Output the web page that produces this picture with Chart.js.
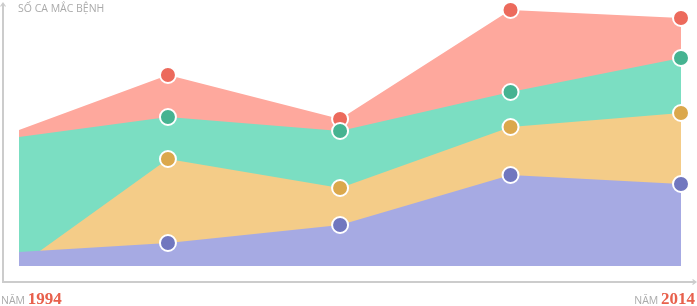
<!DOCTYPE html>
<html>
<head>
<meta charset="utf-8">
<script src="https://cdn.jsdelivr.net/npm/chart.js@4"></script>
<style>
    body { margin: 0; background: #fff; }
    .wrap { position: relative; width: 697px; height: 306px; }
    .lbl { position: absolute; font-family: "Open Sans", sans-serif; color: #aaa; font-size: 10.5px; white-space: nowrap; line-height: 16px; }
    .lbl b { color: #e8604c; font-family: "Liberation Serif", serif; font-size: 17px; }
</style>
</head>
<body>
<div class="wrap">
    <canvas id="cases_chart" width="697" height="306"></canvas>
    <div class="lbl" style="left:18px; top:0px;">SỐ CA MẮC BỆNH</div>
    <div class="lbl" style="left:1px; top:291px;">NĂM <b>1994</b></div>
    <div class="lbl" style="right:2px; top:291px;">NĂM <b>2014</b></div>
</div>
<script>
    const years = [1994, 1998.5, 2003.7, 2008.85, 2014];
    const redValues = [136, 191, 147, 256, 248];
    const greenValues = [129, 149, 135, 174, 208];
    const orangeValues = [0, 107, 78, 139, 153];
    const purpleValues = [14, 23, 41, 91, 82];

    const toPoints = (vals) => vals.map((v, i) => ({ x: years[i], y: v }));

    function series(vals, fill, dot) {
        return {
            data: toPoints(vals),
            fill: "origin",
            backgroundColor: fill,
            borderWidth: 0,
            borderColor: fill,
            tension: 0,
            pointRadius: [0, 8, 8, 8, 8],
            pointBackgroundColor: dot,
            pointBorderColor: "#fff",
            pointBorderWidth: 2,
            clip: false,
        };
    }

    // grey axis lines with small arrow heads
    const axisArrows = {
        id: "axisArrows",
        beforeDraw(chart) {
            const c = chart.ctx;
            c.save();
            c.strokeStyle = "#cccccc";
            c.lineWidth = 2;
            c.beginPath();
            c.moveTo(3, 283);
            c.lineTo(3, 4);
            c.moveTo(3, 282);
            c.lineTo(695, 282);
            c.stroke();
            c.lineWidth = 1.2;
            c.beginPath();
            c.moveTo(0.5, 6.5);
            c.lineTo(3, 3);
            c.lineTo(5.5, 6.5);
            c.moveTo(692.5, 279.5);
            c.lineTo(696, 282);
            c.lineTo(692.5, 284.5);
            c.stroke();
            c.restore();
        },
    };

    new Chart(document.getElementById("cases_chart"), {
        type: "line",
        data: {
            datasets: [
                series(purpleValues, "#a6aae3", "#7177bf"),
                series(orangeValues, "#f4cc88", "#dba84c"),
                series(greenValues, "#7bdec2", "#46b391"),
                series(redValues, "#fea89d", "#ec6a5c"),
            ],
        },
        options: {
            responsive: false,
            animation: false,
            layout: { autoPadding: false, padding: { left: 19, right: 16, top: 0, bottom: 40 } },
            plugins: { legend: { display: false }, tooltip: { enabled: false } },
            scales: {
                x: { type: "linear", min: 1994, max: 2014, display: false },
                y: { min: 0, max: 266, display: false },
            },
        },
        plugins: [axisArrows],
    });
</script>
</body>
</html>
